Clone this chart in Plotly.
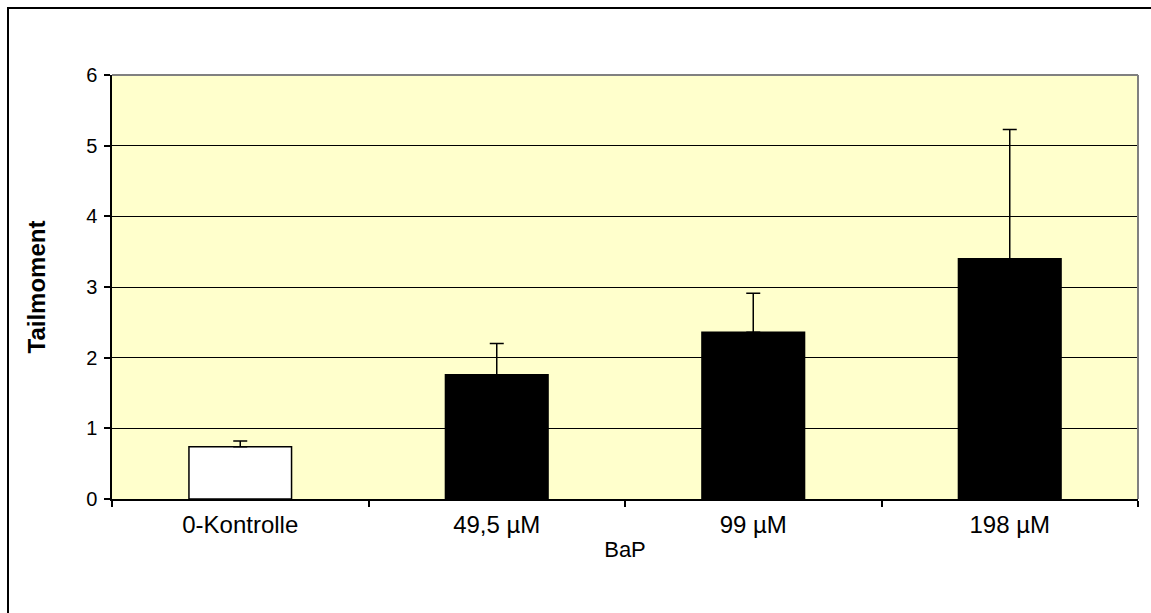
import plotly.graph_objects as go

categories = ["0-Kontrolle", "49,5 µM", "99 µM", "198 µM"]
tailmoment = [0.74, 1.76, 2.36, 3.40]
error_plus = [0.08, 0.44, 0.55, 1.83]
bar_colors = ["#FFFFFF", "#000000", "#000000", "#000000"]

FONT = "Arial, Liberation Sans, sans-serif"

fig = go.Figure()
fig.add_trace(go.Bar(
    x=categories,
    y=tailmoment,
    marker=dict(color=bar_colors, line=dict(color="#000000", width=1.5)),
    error_y=dict(type="data", array=error_plus, symmetric=False,
                 arrayminus=[0, 0, 0, 0], color="#000000",
                 thickness=1.5, width=7),
    width=0.4,
))

W, H = 1151, 613
L, R, T, B = 112, 13, 75, 114
pw, ph = W - L - R, H - T - B

def px_x(x):
    return (x - L) / pw

def px_y(y):
    return (H - B - y) / ph

shapes = [
    # outer chart frame (extends past the page edge on the right and bottom)
    dict(type="rect", xref="paper", yref="paper",
         x0=px_x(8), y0=px_y(8), x1=px_x(W + 20), y1=px_y(H + 20),
         line=dict(color="#000000", width=2), layer="below"),
    # plot-area border on top and right
    dict(type="line", xref="paper", yref="paper", x0=0, x1=1, y0=1, y1=1,
         line=dict(color="#808080", width=2)),
    dict(type="line", xref="paper", yref="paper", x0=1, x1=1, y0=0, y1=1,
         line=dict(color="#808080", width=2)),
]

fig.update_layout(
    width=W, height=H,
    margin=dict(l=L, r=R, t=T, b=B),
    paper_bgcolor="#FFFFFF",
    plot_bgcolor="#FFFFCC",
    showlegend=False,
    font=dict(family=FONT, size=20, color="#000000"),
    shapes=shapes,
    xaxis=dict(
        title=dict(text="BaP", font=dict(family=FONT, size=22), standoff=5),
        tickson="boundaries", ticks="outside", ticklen=6, tickwidth=1.5,
        tickcolor="#000000", showline=True, linecolor="#000000", linewidth=1.5,
        showgrid=False, tickfont=dict(family=FONT, size=24),
        ticklabelstandoff=3,
    ),
    yaxis=dict(
        title=dict(text="<b>Tailmoment</b>", font=dict(family=FONT, size=24), standoff=34),
        range=[0, 6], dtick=1, ticks="outside", ticklen=6, tickwidth=1.5,
        tickcolor="#000000", showline=True, linecolor="#000000", linewidth=1.5,
        showgrid=True, gridcolor="#000000", gridwidth=1, zeroline=False,
        tickfont=dict(family=FONT, size=20), ticklabelstandoff=3,
    ),
)

fig.write_html("out.html")
